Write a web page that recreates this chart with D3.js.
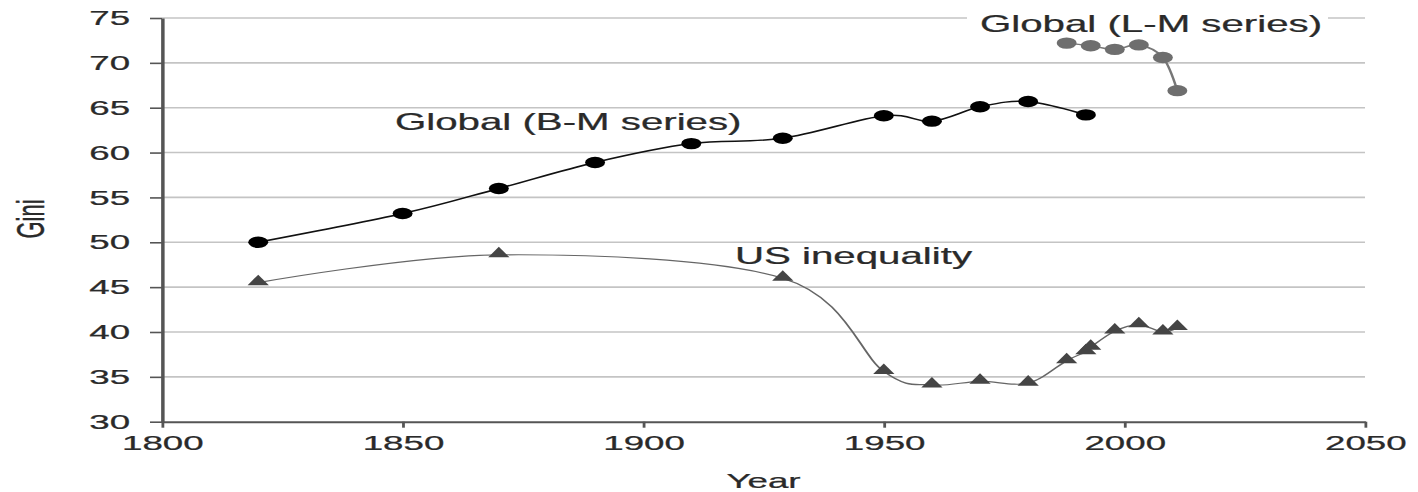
<!DOCTYPE html>
<meta charset="utf-8">
<script src="https://d3js.org/d3.v7.min.js"></script>
<style>
  body { margin: 0; background: #fff; }
  text { font-family: "Liberation Sans", Arial, Helvetica, sans-serif; }
</style>
<div id="chart"></div>
<script>
// data
var bmYears = [1820, 1850, 1870, 1890, 1910, 1929, 1950, 1960, 1970, 1980, 1992];
var bmGini  = [50.0, 53.2, 56.0, 58.9, 61.0, 61.6, 64.1, 63.5, 65.1, 65.7, 64.2];

var lmYears = [1988, 1993, 1998, 2003, 2008, 2011];
var lmGini  = [72.2, 71.9, 71.5, 72.0, 70.6, 66.9];

var usYears = [1820, 1870, 1929, 1950, 1960, 1970, 1980, 1988, 1992, 1993, 1998, 2003, 2008, 2011];
var usGini  = [45.5, 48.6, 46.0, 35.6, 34.1, 34.5, 34.3, 36.8, 37.8, 38.3, 40.1, 40.8, 40.0, 40.5];

var xTicks = [1800, 1850, 1900, 1950, 2000, 2050];
var yTicks = [30, 35, 40, 45, 50, 55, 60, 65, 70, 75];

// the original figure is stretched sideways, so draw in a narrower box and stretch it
var k = 1.75,
    W = 1418, H = 492,
    vw = W / k;

var svg = d3.select("#chart")
    .append("svg")
    .attr("width", W)
    .attr("height", H)
    .attr("viewBox", "0 0 " + vw + " " + H)
    .attr("preserveAspectRatio", "none");

var x = d3.scaleLinear()
    .domain([1800, 2050])
    .range([162 / k, 1365 / k]);

var y = d3.scaleLinear()
    .domain([30, 75])
    .range([421.7, 18]);

// horizontal grid
svg.append("g")
    .selectAll("line")
    .data(yTicks.filter(function(d) { return d > 30; }))
    .enter()
    .append("line")
    .attr("x1", x(1800))
    .attr("x2", x(2050))
    .attr("y1", function(d) { return y(d); })
    .attr("y2", function(d) { return y(d); })
    .attr("stroke", "#c4c4c4")
    .attr("stroke-width", 1.6);

// axes
var xAxis = svg.append("g")
    .attr("transform", "translate(0," + y(30) + ")")
    .call(d3.axisBottom(x).tickValues(xTicks).tickFormat(d3.format("d"))
        .tickSize(6).tickSizeOuter(0).tickPadding(7));

var yAxis = svg.append("g")
    .attr("transform", "translate(" + x(1800) + ",0)")
    .call(d3.axisLeft(y).tickValues(yTicks)
        .tickSize(12 / k).tickSizeOuter(0).tickPadding(11.4));

[xAxis, yAxis].forEach(function(a) {
    a.select(".domain").attr("stroke", "#555").attr("stroke-width", 2);
    a.selectAll(".tick line").attr("stroke", "#555").attr("stroke-width", 1.6);
    a.selectAll(".tick text")
        .attr("fill", "#2a2a2a")
        .attr("stroke", "#2a2a2a")
        .attr("stroke-width", 0.25)
        .style("font-size", "21px")
        .style("font-family", "'Liberation Sans', Arial, sans-serif");
});

// axis titles
svg.append("text")
    .attr("x", x(1925))
    .attr("y", 488)
    .attr("text-anchor", "middle")
    .attr("fill", "#2a2a2a")
    .attr("stroke", "#2a2a2a")
    .attr("stroke-width", 0.25)
    .style("font-size", "21px")
    .text("Year");

svg.append("text")
    .attr("transform", "translate(" + (44 / k) + "," + 219 + ") rotate(-90)")
    .attr("text-anchor", "middle")
    .attr("fill", "#2a2a2a")
    .attr("stroke", "#2a2a2a")
    .attr("stroke-width", 0.25)
    .style("font-size", "22px")
    .text("Gini");

// white box behind the L-M label (it cuts the top grid line)
svg.append("rect")
    .attr("x", 967 / k)
    .attr("y", 6)
    .attr("width", (1328 - 967) / k)
    .attr("height", 30)
    .attr("fill", "#fff");

var line = d3.line()
    .x(function(d) { return x(d[0]); })
    .y(function(d) { return y(d[1]); })
    .curve(d3.curveCardinal.tension(0));

var bm = d3.zip(bmYears, bmGini),
    lm = d3.zip(lmYears, lmGini),
    us = d3.zip(usYears, usGini);

// US inequality
svg.append("path")
    .attr("d", line(us))
    .attr("fill", "none")
    .attr("stroke", "#666")
    .attr("stroke-width", 1.2);

svg.selectAll("usPoints")
    .data(us)
    .enter()
    .append("path")
    .attr("d", d3.symbol().type(d3.symbolTriangle).size(64))
    .attr("transform", function(d) { return "translate(" + x(d[0]) + "," + (y(d[1]) - 1) + ")"; })
    .attr("fill", "#454545");

// global B-M
svg.append("path")
    .attr("d", line(bm))
    .attr("fill", "none")
    .attr("stroke", "#111")
    .attr("stroke-width", 1.5);

svg.selectAll("bmPoints")
    .data(bm)
    .enter()
    .append("circle")
    .attr("cx", function(d) { return x(d[0]); })
    .attr("cy", function(d) { return y(d[1]); })
    .attr("r", 5.7)
    .attr("fill", "#000");

// global L-M
svg.append("path")
    .attr("d", line(lm))
    .attr("fill", "none")
    .attr("stroke", "#777")
    .attr("stroke-width", 1.5);

svg.selectAll("lmPoints")
    .data(lm)
    .enter()
    .append("circle")
    .attr("cx", function(d) { return x(d[0]); })
    .attr("cy", function(d) { return y(d[1]); })
    .attr("r", 5.7)
    .attr("fill", "#6e6e6e");

// series labels
var labels = [
    {name: "Global (B-M series)", x: 395, y: 130},
    {name: "US inequality", x: 735, y: 264},
    {name: "Global (L-M series)", x: 980, y: 32}
];
svg.selectAll("seriesLabels")
    .data(labels)
    .enter()
    .append("text")
    .attr("x", function(d) { return d.x / k; })
    .attr("y", function(d) { return d.y; })
    .attr("fill", "#2a2a2a")
    .attr("stroke", "#2a2a2a")
    .attr("stroke-width", 0.25)
    .style("font-size", "23px")
    .text(function(d) { return d.name; });
</script>
